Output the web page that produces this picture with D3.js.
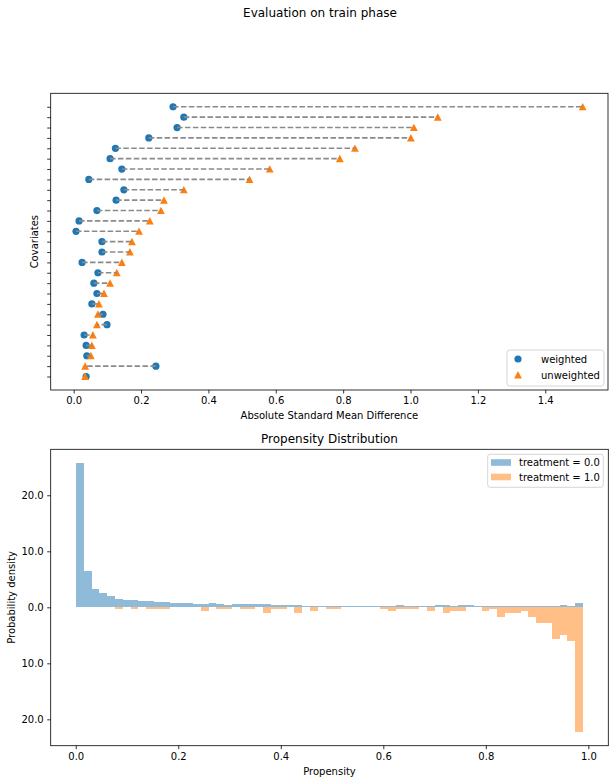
<!DOCTYPE html>
<html><head><meta charset="utf-8">
<script src="https://cdn.jsdelivr.net/npm/d3@7"></script>
<style>
body{margin:0;background:#fff}
svg{display:block}
text{font-family:"DejaVu Sans",sans-serif;fill:#000}
</style>
</head><body>
<svg id="chart" width="615" height="784"></svg>
<script>
// ---------- DATA ----------
const covariates = ["c0","c1","c2","c3","c4","c5","c6","c7","c8","c9","c10","c11","c12","c13",
  "c14","c15","c16","c17","c18","c19","c20","c21","c22","c23","c24","c25","c26"];
// bottom -> top
const weighted = [0.037,0.244,0.039,0.037,0.031,0.099,0.087,0.054,0.069,0.060,0.072,0.025,0.084,0.084,
  0.007,0.016,0.069,0.126,0.149,0.045,0.143,0.108,0.124,0.223,0.307,0.327,0.295];
const unweighted = [0.034,0.034,0.051,0.054,0.057,0.069,0.072,0.075,0.090,0.108,0.128,0.143,0.167,0.173,
  0.194,0.226,0.259,0.268,0.327,0.522,0.582,0.790,0.835,1.001,1.010,1.081,1.511];
const smdTicks = [0.0,0.2,0.4,0.6,0.8,1.0,1.2,1.4];
const smdSeries = ["weighted","unweighted"];

// Propensity histogram (65 equal bins)
const binRange = [0.0006, 0.9895];
const densityControl = [25.8,6.4,3.25,2.55,2.0,1.45,1.27,1.27,1.09,1.09,
  0.9,0.9,0.72,0.72,0.72,0.56,0.56,0.74,0.56,0.38,
  0.56,0.56,0.56,0.56,0.56,0.38,0.38,0.38,0.38,0.19,
  0.19,0.19,0.19,0.19,0.19,0.19,0.19,0.19,0.19,0.19,
  0.19,0.38,0.19,0.19,0.19,0.19,0.38,0.38,0.19,0.38,
  0.38,0.19,0.19,0.19,0.19,0.19,0.19,0.19,0.19,0.19,
  0.19,0.19,0.38,0.19,0.74];
const densityTreated = [0,0,0,0,0,0.32,0,0.32,0,0.32,
  0.32,0.32,0,0,0,0,0.64,0,0.32,0.32,
  0,0.32,0.32,0,0.96,0.32,0.32,0,0.96,0,
  0.64,0,0.32,0.32,0,0,0,0,0,0.32,
  0.64,0.32,0.32,0.32,0,0.64,0,0.96,0.64,0.64,
  0,0,0.64,0.32,1.7,0.98,0.98,0.64,1.7,2.8,
  2.8,5.65,4.95,6.0,22.3];
const propTicks = [0.0,0.2,0.4,0.6,0.8,1.0];
const densityTicks = [-20,-10,0,10,20];
const groups = ["treatment = 0.0","treatment = 1.0"];

// ---------- STYLE ----------
const C_BLUE = "#1f77b4", C_ORANGE = "#ff7f0e";
const svg = d3.select("#chart");

function styleAxis(g){
  g.select(".domain").remove();
  g.selectAll(".tick line").attr("stroke","#000").attr("stroke-width",0.8);
  g.selectAll(".tick text").attr("font-size","10px").attr("font-family","DejaVu Sans").attr("fill","#000");
}
function frame(x0,y0,x1,y1){
  svg.append("rect").attr("x",x0).attr("y",y0).attr("width",x1-x0).attr("height",y1-y0)
    .attr("fill","none").attr("stroke","#000").attr("stroke-width",0.8);
}

svg.append("text").attr("x",320).attr("y",17).attr("text-anchor","middle")
  .attr("font-size","12px").text("Evaluation on train phase");

// ---------- TOP: SMD ----------
const T = {l:50.7, r:608, t:93.3, b:390};
const allV = weighted.concat(unweighted);
const vmin = d3.min(allV), vmax = d3.max(allV), vpad = (vmax-vmin)*0.05;
const x1 = d3.scaleLinear().domain([vmin-vpad, vmax+vpad]).range([T.l, T.r]);
const n = covariates.length;
const y1 = d3.scaleLinear().domain([-(n-1)*0.05, (n-1)*1.05]).range([T.b, T.t]);

const gTop = svg.append("g");
gTop.selectAll("circle.w").data(weighted).join("circle")
  .attr("cx",d=>x1(d)).attr("cy",(d,i)=>y1(i)).attr("r",3.6).attr("fill",C_BLUE);
const tri = "M0,-3.9L3.9,3.5L-3.9,3.5Z";
gTop.selectAll("path.u").data(unweighted).join("path")
  .attr("d",tri).attr("transform",(d,i)=>`translate(${x1(d)},${y1(i)})`).attr("fill",C_ORANGE);
gTop.selectAll("line.c").data(covariates).join("line")
  .attr("x1",(d,i)=>x1(weighted[i])).attr("x2",(d,i)=>x1(unweighted[i]))
  .attr("y1",(d,i)=>y1(i)).attr("y2",(d,i)=>y1(i))
  .attr("stroke","#8a8a8a").attr("stroke-width",1.6).attr("stroke-dasharray","5.5,2.4");

frame(T.l,T.t,T.r,T.b);
svg.append("g").attr("transform",`translate(0,${T.b})`)
  .call(d3.axisBottom(x1).tickValues(smdTicks).tickFormat(d3.format(".1f")).tickSize(3.5).tickPadding(3.5))
  .call(styleAxis);
svg.append("g").attr("transform",`translate(${T.l},0)`)
  .call(d3.axisLeft(y1).tickValues(d3.range(n)).tickFormat("").tickSize(3.5))
  .call(styleAxis);
svg.append("text").attr("x",(T.l+T.r)/2).attr("y",419).attr("text-anchor","middle")
  .attr("font-size","10px").text("Absolute Standard Mean Difference");
svg.append("text").attr("transform",`translate(38,${(T.t+T.b)/2}) rotate(-90)`)
  .attr("text-anchor","middle").attr("font-size","10px").text("Covariates");

const lt = svg.append("g");
lt.append("rect").attr("x",507).attr("y",350).attr("width",97).attr("height",36).attr("rx",2.5)
  .attr("fill","#fff").attr("fill-opacity",0.8).attr("stroke","#ccc").attr("stroke-width",0.8);
smdSeries.forEach((s,i)=>{
  const yy = 359 + i*16;
  if(i===0) lt.append("circle").attr("cx",518).attr("cy",yy).attr("r",3.6).attr("fill",C_BLUE);
  else lt.append("path").attr("d",tri).attr("transform",`translate(518,${yy})`).attr("fill",C_ORANGE);
  lt.append("text").attr("x",541).attr("y",yy+3.6).attr("font-size","10px").text(s);
});

// ---------- BOTTOM: Propensity ----------
const B = {l:50.7, r:608.3, t:449.3, b:745.7};
const nb = densityControl.length;
const edges = d3.range(nb+1).map(i => binRange[0] + (binRange[1]-binRange[0])*i/nb);
const xpad = (binRange[1]-binRange[0])*0.05;
const x2 = d3.scaleLinear().domain([binRange[0]-xpad, binRange[1]+xpad]).range([B.l, B.r]);
const dmax = d3.max(densityControl), dmin = -d3.max(densityTreated), dpad = (dmax-dmin)*0.05;
const y2 = d3.scaleLinear().domain([dmin-dpad, dmax+dpad]).range([B.b, B.t]);
const xe = i => Math.round(x2(edges[i]));
const y0px = Math.round(y2(0));

svg.append("g").attr("fill",C_BLUE).attr("fill-opacity",0.5).attr("shape-rendering","crispEdges")
  .selectAll("rect").data(densityControl).join("rect")
  .attr("x",(d,i)=>xe(i)).attr("width",(d,i)=>xe(i+1)-xe(i))
  .attr("y",d=>Math.min(y0px-1, Math.round(y2(d)))).attr("height",d=>y0px-Math.min(y0px-1, Math.round(y2(d))));
svg.append("g").attr("fill",C_ORANGE).attr("fill-opacity",0.5).attr("shape-rendering","crispEdges")
  .selectAll("rect").data(densityTreated).join("rect")
  .attr("x",(d,i)=>xe(i)).attr("width",(d,i)=>xe(i+1)-xe(i))
  .attr("y",y0px).attr("height",d=>d>0?Math.max(1,Math.round(y2(-d))-y0px):0);

frame(B.l,B.t,B.r,B.b);
svg.append("g").attr("transform",`translate(0,${B.b})`)
  .call(d3.axisBottom(x2).tickValues(propTicks).tickFormat(d3.format(".1f")).tickSize(3.5).tickPadding(3.5))
  .call(styleAxis);
svg.append("g").attr("transform",`translate(${B.l},0)`)
  .call(d3.axisLeft(y2).tickValues(densityTicks).tickFormat(d=>Math.abs(d).toFixed(1)).tickSize(3.5).tickPadding(3.5))
  .call(styleAxis);
svg.append("text").attr("x",(B.l+B.r)/2).attr("y",443).attr("text-anchor","middle")
  .attr("font-size","12px").text("Propensity Distribution");
svg.append("text").attr("x",(B.l+B.r)/2).attr("y",775).attr("text-anchor","middle")
  .attr("font-size","10px").text("Propensity");
svg.append("text").attr("transform",`translate(15,${(B.t+B.b)/2}) rotate(-90)`)
  .attr("text-anchor","middle").attr("font-size","10px").text("Probability density");

const lb = svg.append("g");
lb.append("rect").attr("x",487.7).attr("y",454.3).attr("width",115.6).attr("height",33).attr("rx",2.5)
  .attr("fill","#fff").attr("fill-opacity",0.8).attr("stroke","#ccc").attr("stroke-width",0.8);
groups.forEach((g,i)=>{
  const yy = 462.5 + i*14.5;
  lb.append("rect").attr("x",491).attr("y",yy-3.3).attr("width",20).attr("height",6.6)
    .attr("fill",i===0?C_BLUE:C_ORANGE).attr("fill-opacity",0.5);
  lb.append("text").attr("x",519).attr("y",yy+3.6).attr("font-size","10px").text(g);
});
</script>
</body></html>
